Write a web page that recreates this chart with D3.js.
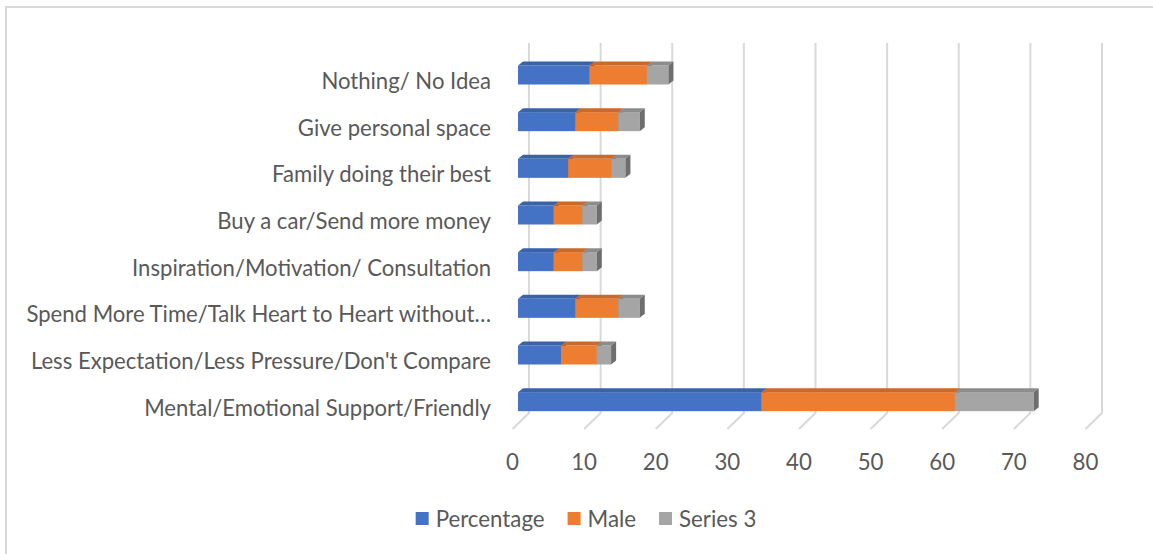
<!DOCTYPE html>
<html><head><meta charset="utf-8">
<script src="https://cdn.jsdelivr.net/npm/d3@7"></script>
<style>html,body{margin:0;padding:0;background:#fff;}svg{display:block;font-family:Lato,"Open Sans",sans-serif;}</style>
</head><body>
<svg id="chart" width="1153" height="554"></svg>
<script>
const categories = ["Mental/Emotional Support/Friendly","Less Expectation/Less Pressure/Don't Compare","Spend More Time/Talk Heart to Heart without\u2026","Inspiration/Motivation/ Consultation","Buy a car/Send more money","Family doing their best","Give personal space","Nothing/ No Idea"];
const percentage = [34,6,8,5,5,7,8,10];
const male = [27,5,6,4,4,6,6,8];
const series3 = [11,2,3,2,2,2,3,3];
const seriesNames = ["Percentage","Male","Series 3"];
const ticks = [0,10,20,30,40,50,60,70,80];

const colors = ["#4472C4","#ED7D31","#A5A5A5"];
const topColors = ["#3A62A8","#C9692A","#8C8C8C"];
const sideColors = ["#2F5090","#A5561F","#6E6E6E"];

const svg = d3.select("#chart");
// helper: font size so that a text fits a target width
function fitSize(txt, base, target){
  const t = svg.append("text").attr("font-size",base).text(txt);
  const w = t.node().getComputedTextLength(); t.remove();
  return base*target/w;
}
const catSize = fitSize("Mental/Emotional Support/Friendly",20,347);
const legSize = fitSize("Percentage",20,109);

svg.append("rect").attr("x",6).attr("y",7).attr("width",1200).attr("height",600)
  .attr("fill","none").attr("stroke","#D9D9D9").attr("stroke-width",2);

const xBack = d3.scaleLinear().domain([0,80]).range([529,1102]);
const depthX = 16.5, depthY = 16;
const wallTop = 43, wallBottom = 413;
const textColor = "#595959";

ticks.forEach(t=>{
  const x = xBack(t);
  svg.append("polyline")
    .attr("points",`${x},${wallTop} ${x},${wallBottom} ${x-depthX},${wallBottom+depthY}`)
    .attr("fill","none").attr("stroke","#D9D9D9").attr("stroke-width",2);
  svg.append("text").attr("x",x-depthX).attr("y",461).attr("text-anchor","middle")
    .attr("dominant-baseline","central").attr("font-size",legSize).attr("fill",textColor).text(t);
});

const y = d3.scalePoint().domain(categories.slice().reverse()).range([51.67,425]).padding(0.5);
const barH = 19, bdx = 5, bdy = 4;
const frontOffset = 11;
const xf = v => xBack(v) - frontOffset;

const rows = categories.map((c,i)=>({cat:c, Percentage:percentage[i], Male:male[i], "Series 3":series3[i]}));
const stacked = d3.stack().keys(seriesNames)(rows);

categories.forEach((c,i)=>{
  const cy = y(c), y0 = cy - barH/2;
  stacked.forEach((s,k)=>{
    const a = xf(s[i][0]), b = xf(s[i][1]);
    const g = svg.append("g");
    g.append("rect").attr("x",a).attr("y",y0).attr("width",b-a).attr("height",barH).attr("fill",colors[k]);
    g.append("polygon").attr("points",`${a},${y0} ${a+bdx},${y0-bdy} ${b+bdx},${y0-bdy} ${b},${y0}`).attr("fill",topColors[k]);
    g.append("polygon").attr("points",`${b},${y0} ${b+bdx},${y0-bdy} ${b+bdx},${y0+barH-bdy} ${b},${y0+barH}`).attr("fill",sideColors[k]);
  });
  svg.append("text").attr("x",491).attr("y",cy+5.5).attr("text-anchor","end")
    .attr("dominant-baseline","central").attr("font-size",catSize).attr("fill",textColor).text(c);
});

const lg = svg.append("g");
let lx = 0;
seriesNames.forEach((n,k)=>{
  const it = lg.append("g");
  it.append("rect").attr("x",0).attr("y",-6).attr("width",13).attr("height",13).attr("fill",colors[k]);
  const t = it.append("text").attr("x",20).attr("y",0).attr("dominant-baseline","central")
    .attr("font-size",legSize).attr("fill",textColor).text(n);
  const w = 20 + t.node().getComputedTextLength();
  it.attr("transform",`translate(${lx},0)`);
  lx += w + 23;
});
const totalW = lx - 23;
lg.attr("transform",`translate(${586-totalW/2},518)`);
</script>
</body></html>
